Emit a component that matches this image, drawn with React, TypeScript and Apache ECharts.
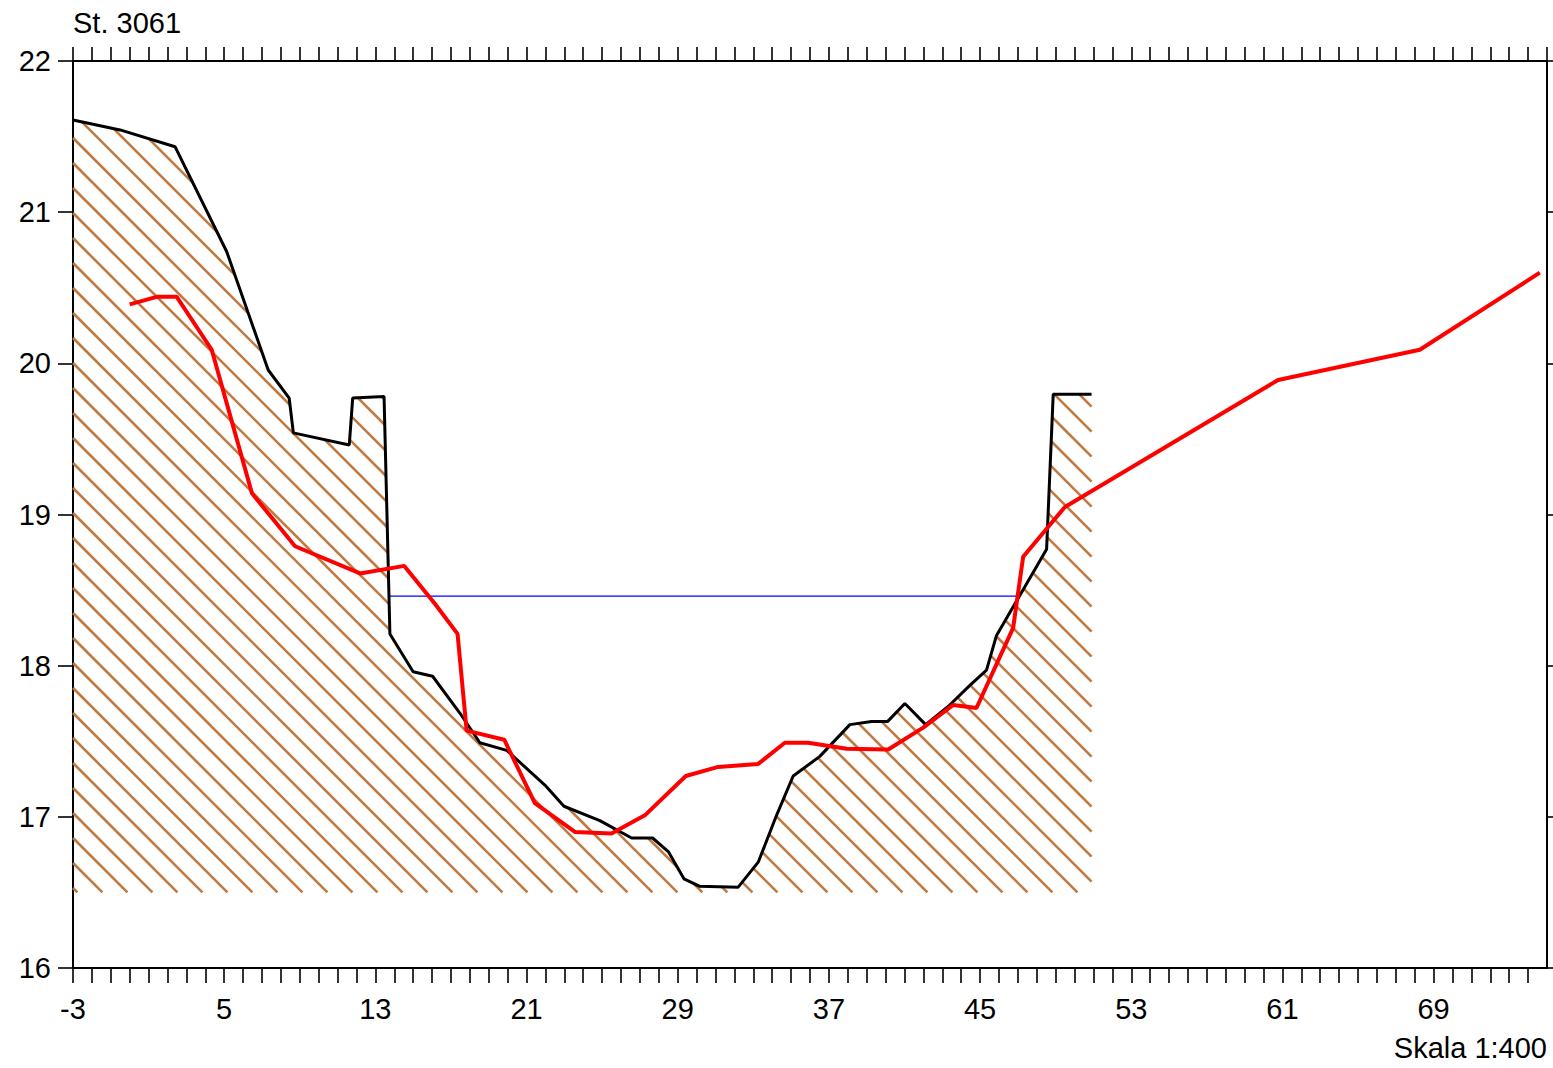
import React, { useEffect, useRef } from "react";
import * as echarts from "echarts";

// Ground profile (black line, hatched below)
const groundX = [-3, -0.51, 2.4, 5.13, 7.33, 8.44, 8.66, 11.62, 11.8, 13.46, 13.77, 15.0, 16.03, 17.48, 18.53, 19.95, 21.97, 22.98, 24.88, 26.56, 27.67, 28.5, 29.33, 30.17, 32.2, 33.26, 34.23, 35.11, 36.52, 38.11, 39.26, 40.1, 41.02, 42.12, 43.31, 44.46, 45.34, 45.87, 48.52, 48.87, 50.9];
const groundY = [21.61, 21.544, 21.433, 20.74, 19.956, 19.77, 19.54, 19.46, 19.77, 19.78, 18.21, 17.96, 17.93, 17.685, 17.49, 17.44, 17.21, 17.07, 16.975, 16.86, 16.86, 16.77, 16.59, 16.54, 16.535, 16.7, 17.01, 17.27, 17.4, 17.61, 17.63, 17.63, 17.75, 17.61, 17.73, 17.87, 17.97, 18.2, 18.77, 19.795, 19.795];

// Red profile
const redX = [0, 1.43, 2.49, 4.34, 6.47, 8.75, 12.19, 14.53, 16.15, 17.35, 17.83, 19.82, 21.44, 23.56, 25.5, 27.26, 29.43, 31.14, 33.26, 34.67, 35.9, 37.94, 40.14, 41.99, 43.58, 44.81, 46.75, 47.28, 49.49, 60.77, 68.27, 74.62];
const redY = [20.39, 20.44, 20.44, 20.09, 19.14, 18.79, 18.61, 18.66, 18.41, 18.21, 17.57, 17.51, 17.09, 16.9, 16.89, 17.01, 17.27, 17.33, 17.35, 17.49, 17.49, 17.45, 17.445, 17.59, 17.74, 17.72, 18.25, 18.72, 19.05, 19.89, 20.09, 20.6];

// Water level (blue line)
const waterX = [13.77, 47.03];
const waterY = [18.46, 18.46];

const hatchBase = 16.5;
const xTickLabels = [-3, 5, 13, 21, 29, 37, 45, 53, 61, 69];
const yTickLabels = [16, 17, 18, 19, 20, 21, 22];

const FONT = "'Liberation Sans', Arial, sans-serif";

export default function App() {
  const ref = useRef<HTMLDivElement>(null);
  useEffect(() => {
    if (!ref.current) return;
    const chart = echarts.init(ref.current, undefined, { renderer: "svg" });
    const hatchColor = "#C07A40";
    const axisLineStyle = { color: "#000", width: 2 };
    const tickStyle = { color: "#000", width: 1.6 };
    const option: any = {
      animation: false,
      grid: { left: 73, top: 61, right: 6, bottom: 100, containLabel: false },
      xAxis: [
        {
          type: "value",
          position: "bottom",
          min: -3,
          max: 75,
          interval: 1,
          axisLine: { show: true, onZero: false, lineStyle: axisLineStyle },
          axisTick: { show: true, inside: false, length: 15, lineStyle: tickStyle },
          axisLabel: {
            show: true,
            margin: 26,
            fontSize: 29,
            fontFamily: FONT,
            color: "#000",
            showMaxLabel: false,
            formatter: (v: number) => (xTickLabels.indexOf(Math.round(v)) >= 0 ? String(Math.round(v)) : ""),
          },
          splitLine: { show: false },
        },
        {
          type: "value",
          position: "top",
          min: -3,
          max: 75,
          interval: 1,
          axisLine: { show: true, onZero: false, lineStyle: axisLineStyle },
          axisTick: { show: true, inside: false, length: 14, lineStyle: tickStyle },
          axisLabel: { show: false },
          splitLine: { show: false },
        },
      ],
      yAxis: [
        {
          type: "value",
          position: "left",
          min: 16,
          max: 22,
          interval: 1,
          axisLine: { show: true, onZero: false, lineStyle: axisLineStyle },
          axisTick: { show: true, inside: false, length: 15, lineStyle: tickStyle },
          axisLabel: {
            show: true,
            margin: 22,
            fontSize: 29,
            fontFamily: FONT,
            color: "#000",
            formatter: (v: number) => (yTickLabels.indexOf(Math.round(v)) >= 0 ? String(Math.round(v)) : ""),
          },
          splitLine: { show: false },
        },
        {
          type: "value",
          position: "right",
          min: 16,
          max: 22,
          interval: 1,
          axisLine: { show: true, onZero: false, lineStyle: axisLineStyle },
          axisTick: { show: true, inside: false, length: 8, lineStyle: tickStyle },
          axisLabel: { show: false },
          splitLine: { show: false },
        },
      ],
      graphic: [
        {
          type: "text",
          x: 73,
          y: 22.5,
          style: { text: "St. 3061", font: `29px ${FONT}`, fill: "#000", align: "left", verticalAlign: "middle" },
        },
        {
          type: "text",
          x: 1547,
          y: 1048,
          style: { text: "Skala 1:400", font: `29px ${FONT}`, fill: "#000", align: "right", verticalAlign: "middle" },
        },
      ],
      series: [
        {
          type: "custom",
          name: "hatch",
          xAxisIndex: 0,
          yAxisIndex: 0,
          z: 1,
          silent: true,
          data: [[groundX[0], hatchBase]],
          renderItem: (params: any, api: any) => {
            const poly: number[][] = groundX.map((x, i) => api.coord([x, groundY[i]]));
            poly.push(api.coord([groundX[groundX.length - 1], hatchBase]));
            poly.push(api.coord([groundX[0], hatchBase]));
            let minC = Infinity;
            let maxC = -Infinity;
            poly.forEach((p) => {
              const c = p[1] - p[0];
              if (c < minC) minC = c;
              if (c > maxC) maxC = c;
            });
            const step = 25;
            const phase = 15;
            const start = Math.ceil((minC - phase) / step) * step + phase;
            const children: any[] = [];
            for (let c = start; c <= maxC; c += step) {
              const xs: number[] = [];
              for (let i = 0; i < poly.length; i++) {
                const P = poly[i];
                const Q = poly[(i + 1) % poly.length];
                const fP = P[1] - P[0] - c;
                const fQ = Q[1] - Q[0] - c;
                if (fP > 0 !== fQ > 0) {
                  const t = fP / (fP - fQ);
                  xs.push(P[0] + t * (Q[0] - P[0]));
                }
              }
              xs.sort((a, b) => a - b);
              for (let k = 0; k + 1 < xs.length; k += 2) {
                children.push({
                  type: "line",
                  shape: { x1: xs[k], y1: xs[k] + c, x2: xs[k + 1], y2: xs[k + 1] + c },
                  style: { stroke: hatchColor, lineWidth: 2.6 },
                });
              }
            }
            return { type: "group", children };
          },
        },
        {
          type: "line",
          name: "water",
          xAxisIndex: 0,
          yAxisIndex: 0,
          z: 2,
          symbol: "none",
          data: waterX.map((x, i) => [x, waterY[i]]),
          lineStyle: { color: "#0000FF", width: 1.3 },
        },
        {
          type: "line",
          name: "ground",
          xAxisIndex: 0,
          yAxisIndex: 0,
          z: 3,
          symbol: "none",
          data: groundX.map((x, i) => [x, groundY[i]]),
          lineStyle: { color: "#000", width: 3 },
        },
        {
          type: "line",
          name: "red",
          xAxisIndex: 0,
          yAxisIndex: 0,
          z: 4,
          symbol: "none",
          data: redX.map((x, i) => [x, redY[i]]),
          lineStyle: { color: "#FF0000", width: 4 },
        },
      ],
    };
    chart.setOption(option);
    return () => chart.dispose();
  }, []);
  return (
    <div
      ref={ref}
      style={{ position: "absolute", left: 0, top: 0, width: 1553, height: 1068, background: "#fff" }}
    />
  );
}
